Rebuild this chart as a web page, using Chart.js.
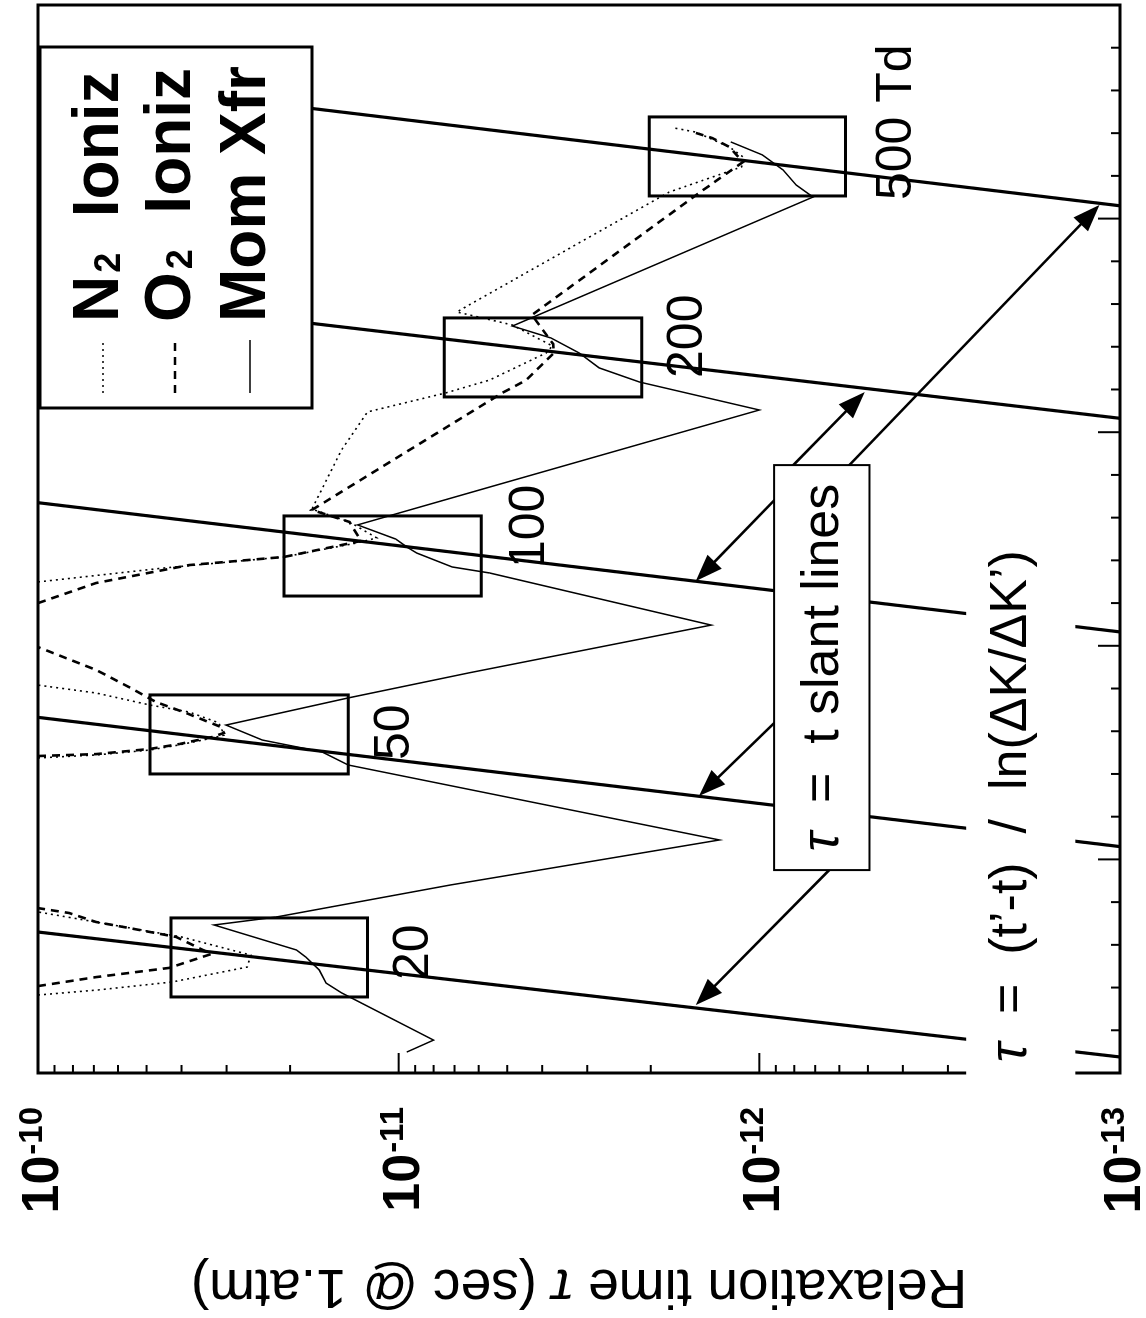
<!DOCTYPE html>
<html>
<head>
<meta charset="utf-8">
<script src="https://cdn.jsdelivr.net/npm/chart.js@4.4.1/dist/chart.umd.min.js"></script>
<style>
  html, body { margin: 0; padding: 0; background: #fff; overflow: hidden; }
  /* the figure is laid out landscape and turned a quarter turn onto the page */
  #wrap { position: absolute; left: 0; top: 0; width: 1318px; height: 1146px;
          transform-origin: 0 0; transform: translate(0px, 1318px) rotate(-90deg); }
  canvas { display: block; }
</style>
</head>
<body>
<div id="wrap"><canvas id="c" width="1318" height="1146"></canvas></div>
<script>
// ---- time axis (reduced units) and relaxation time tau (s @ 1 atm) ----

// momentum transfer relaxation time
const momU   = [0.098, 0.154, 0.351, 0.375, 0.421, 0.482, 0.543, 0.576, 0.693, 0.730, 0.880, 1.091,
                1.442, 1.503, 1.559, 1.629, 1.756, 1.873, 2.097, 2.341, 2.369, 2.434, 2.463, 2.500,
                2.566, 2.743, 3.104, 3.235, 3.301, 3.371, 3.441, 3.497, 4.101, 4.157, 4.228, 4.298, 4.359];
const momTau = [9.5e-12, 8.0e-12, 1.35e-11, 1.44e-11, 1.59e-11, 1.66e-11, 1.81e-11, 1.92e-11, 3.25e-11, 2.19e-11, 7.2e-12, 1.29e-12,
                1.38e-11, 1.63e-11, 2.39e-11, 3.01e-11, 1.38e-11, 6.4e-12, 1.36e-12, 5.6e-12, 7.1e-12, 8.9e-12, 9.5e-12, 1.02e-11,
                1.30e-11, 5.6e-12, 1.00e-12, 2.15e-12, 2.78e-12, 3.16e-12, 3.78e-12, 4.84e-12, 7.1e-13, 7.9e-13, 8.6e-13, 9.8e-13, 1.20e-12];

// N2 ionization relaxation time (null = leaves the plotted range)
const n2U   = [0.365, 0.389, 0.426, 0.496, 0.552, 0.637, 0.754, null,
               1.475, 1.489, 1.512, 1.536, 1.568, 1.582, 1.639, 1.690, 1.723, 1.779, 1.816, null,
               2.299, 2.364, 2.416, 2.481, 2.505, 2.580, 2.640, 2.917, 3.095, 3.184, 3.244, 3.371, 3.404,
               3.502, 3.563, 4.124, 4.242, 4.284, 4.335, 4.405, 4.424];
const n2Tau = [1e-10, 6.8e-11, 4.25e-11, 2.63e-11, 2.57e-11, 4.0e-11, 1e-10, null,
               1e-10, 6.9e-11, 4.9e-11, 4.06e-11, 3.29e-11, 3.05e-11, 3.15e-11, 3.81e-11, 4.9e-11, 6.9e-11, 1e-10, null,
               1e-10, 4.5e-11, 2.08e-11, 1.31e-11, 1.15e-11, 1.37e-11, 1.74e-11, 1.44e-11, 1.22e-11, 7.4e-12, 5.6e-12, 3.9e-12, 3.75e-12,
               4.84e-12, 6.9e-12, 1.78e-12, 1.12e-12, 1.10e-12, 1.21e-12, 1.50e-12, 1.72e-12];

// O2 ionization relaxation time
const o2U   = [0.407, 0.449, 0.492, 0.557, 0.637, 0.679, 0.707, 0.749, 0.772, null,
               1.484, 1.493, 1.517, 1.540, 1.573, 1.592, 1.620, 1.685, 1.737, 1.807, 1.887, 1.994, null,
               2.200, 2.294, 2.378, 2.416, 2.491, 2.580, 2.636, 3.184, 3.244, 3.371, 3.413, 3.549,
               4.120, 4.265, 4.335, 4.377, 4.401];
const o2Tau = [1e-10, 6.9e-11, 4.33e-11, 3.31e-11, 4.14e-11, 5.6e-11, 6.9e-11, 8.2e-11, 1e-10, null,
               1e-10, 6.9e-11, 4.9e-11, 4.06e-11, 3.29e-11, 3.05e-11, 3.11e-11, 3.88e-11, 4.71e-11, 5.6e-11, 6.9e-11, 1e-10, null,
               1e-10, 6.9e-11, 3.81e-11, 2.08e-11, 1.27e-11, 1.37e-11, 1.74e-11, 5.16e-12, 4.43e-12, 3.71e-12, 3.73e-12, 4.27e-12,
               1.47e-12, 1.11e-12, 1.21e-12, 1.35e-12, 1.50e-12];

// tau = t slant lines: time where each crosses the top and bottom of the tau range
const fieldLabels  = ['20', '50', '100', '200', '500 Td'];
const slantTauTop  = 1e-10;
const slantTauBot  = 1e-13;
const slantUTop    = [0.660, 1.665, 2.670, 3.660, 4.670];
const slantUBot    = [0.075, 1.060, 2.065, 3.065, 4.060];

// fitting windows for each reduced field
const boxUMin   = [0.356, 1.400, 2.233, 3.165, 4.106];
const boxUMax   = [0.726, 1.770, 2.608, 3.535, 4.476];
const boxTauHi  = [4.28e-11, 4.89e-11, 2.08e-11, 7.48e-12, 2.02e-12];
const boxTauLo  = [1.22e-11, 1.38e-11, 5.90e-12, 2.12e-12, 5.77e-13];

// field labels next to the windows (start time, baseline tau)
const fieldLabelU   = [0.435, 1.465, 2.364, 3.254, 4.087];
const fieldLabelTau = [8.3e-12, 9.35e-12, 3.95e-12, 1.44e-12, 3.79e-13];

// axis ticks
const decadeValues = [1e-10, 1e-11, 1e-12, 1e-13];
const decadeExps   = ['-10', '-11', '-12', '-13'];
const minorMantissas = [2, 3, 4, 5, 6, 7, 8, 9];
const timeMin = 0, timeMax = 5, timeMinorStep = 0.2, timeMajorEvery = 5;

// callout arrows pointing at the slant lines (tail -> head)
const arrowTailU   = [2.706, 2.823, 1.662, 0.974, 2.823];
const arrowTailTau = [8.8e-13, 8.3e-13, 8.8e-13, 6.2e-13, 5.8e-13];
const arrowHeadU   = [2.303, 3.188, 1.297, 0.318, 4.064];
const arrowHeadTau = [1.50e-12, 5.1e-13, 1.47e-12, 1.50e-12, 1.14e-13];

// callout box and the formula line
const noteBoxU   = [0.950, 2.846];
const noteBoxTau = [9.1e-13, 4.95e-13];
const noteParts    = [['τ', true], ['  =  t slant lines', false]];
const formulaParts = [['τ', true], ['  =  (t’-t)  /  ln(ΔK/ΔK’)', false]];
const formulaStartU = 0.05, formulaEndU = 2.43;
const formulaTauBase = 1.82e-13, formulaTauBand = [2.67e-13, 1.33e-13];

const titleParts = [['Relaxation time ', false], ['τ', true], [' (sec @ 1.atm)', false]];
const legendRows = [['N', '2', '  Ioniz'], ['O', '2', '  Ioniz'], ['Mom Xfr', '', '']];

// ---------------------------------------------------------------------
const FONT = '"Liberation Sans", Arial, Helvetica, sans-serif';

function series(us, taus) {
  return us.map((u, i) => ({ x: u === null ? us[i - 1] : u, y: taus[i] }));
}
function windowOutline(i) {
  return [
    { x: boxUMin[i], y: boxTauHi[i] }, { x: boxUMax[i], y: boxTauHi[i] },
    { x: boxUMax[i], y: boxTauLo[i] }, { x: boxUMin[i], y: boxTauLo[i] },
    { x: boxUMin[i], y: boxTauHi[i] }, { x: boxUMax[i], y: boxTauHi[i] }
  ];
}

const lineStyle = { showLine: true, pointRadius: 0, borderColor: '#000', backgroundColor: '#000',
                    fill: false, spanGaps: false, borderJoinStyle: 'miter', borderCapStyle: 'butt' };

const seriesStyles = [
  { dash: [2, 4], width: 1.6 },
  { dash: [8, 6], width: 2.6 },
  { dash: [], width: 1.5 }
];

const datasets = [
  Object.assign({ label: 'N2 Ioniz', data: series(n2U, n2Tau), borderDash: seriesStyles[0].dash, borderWidth: seriesStyles[0].width }, lineStyle),
  Object.assign({ label: 'O2 Ioniz', data: series(o2U, o2Tau), borderDash: seriesStyles[1].dash, borderWidth: seriesStyles[1].width }, lineStyle),
  Object.assign({ label: 'Mom Xfr', data: series(momU, momTau), borderWidth: seriesStyles[2].width }, lineStyle)
];
slantUTop.forEach((u, i) => datasets.push(Object.assign({
  label: 'slant ' + fieldLabels[i],
  data: [{ x: u, y: slantTauTop }, { x: slantUBot[i], y: slantTauBot }],
  borderWidth: 3.2
}, lineStyle)));
boxUMin.forEach((u, i) => datasets.push(Object.assign({
  label: 'window ' + fieldLabels[i], data: windowOutline(i), borderWidth: 3
}, lineStyle)));

function seg(ctx, x0, y0, x1, y1) { ctx.beginPath(); ctx.moveTo(x0, y0); ctx.lineTo(x1, y1); ctx.stroke(); }

// text made of plain and italic runs; align 'left' or 'center'
function richText(ctx, parts, size, x, y, align) {
  const fonts = parts.map(p => (p[1] ? 'italic ' : '') + size + 'px ' + FONT);
  const widths = parts.map((p, i) => { ctx.font = fonts[i]; return ctx.measureText(p[0]).width; });
  const total = widths.reduce((s, w) => s + w, 0);
  let cx = align === 'center' ? x - total / 2 : x;
  ctx.textAlign = 'left';
  parts.forEach((p, i) => { ctx.font = fonts[i]; ctx.fillText(p[0], cx, y); cx += widths[i]; });
}

function arrow(ctx, x0, y0, x1, y1) {
  const ang = Math.atan2(y1 - y0, x1 - x0), L = 27, W = 10;
  const c = Math.cos(ang), s = Math.sin(ang);
  ctx.lineWidth = 2.6;
  seg(ctx, x0, y0, x1 - L * 0.7 * c, y1 - L * 0.7 * s);
  ctx.beginPath();
  ctx.moveTo(x1, y1);
  ctx.lineTo(x1 - L * c + W * s, y1 - L * s - W * c);
  ctx.lineTo(x1 - L * c - W * s, y1 - L * s + W * c);
  ctx.closePath();
  ctx.fill();
}

const whiteBg = {
  id: 'whiteBg',
  beforeDraw(chart) {
    const { ctx, width, height } = chart;
    ctx.save(); ctx.fillStyle = '#fff'; ctx.fillRect(0, 0, width, height); ctx.restore();
  }
};

const decorations = {
  id: 'decorations',
  afterDatasetsDraw(chart) {
    const { ctx, chartArea: a, scales: { x, y } } = chart;
    const px = v => x.getPixelForValue(v), py = v => y.getPixelForValue(v);
    ctx.save();
    ctx.strokeStyle = '#000'; ctx.fillStyle = '#000'; ctx.lineCap = 'butt';

    // frame
    ctx.lineWidth = 3;
    ctx.strokeRect(a.left, a.top, a.right - a.left, a.bottom - a.top);

    // time axis ticks, pointing inward
    ctx.lineWidth = 2;
    const nSteps = Math.round((timeMax - timeMin) / timeMinorStep);
    for (let k = 0; k <= nSteps; k++) {
      const xx = px(timeMin + k * timeMinorStep);
      const len = k % timeMajorEvery === 0 ? 22 : 9;
      seg(ctx, xx, a.bottom, xx, a.bottom - len);
    }

    // log axis ticks, pointing inward
    decadeValues.forEach(d => { const yy = py(d); seg(ctx, a.left, yy, a.left + 20, yy); });
    decadeValues.slice(1).forEach(d => {
      minorMantissas.forEach(m => { const yy = py(m * d); seg(ctx, a.left, yy, a.left + 8, yy); });
    });

    // decade labels 10^-n
    ctx.textBaseline = 'alphabetic';
    decadeValues.forEach((d, i) => {
      const yy = py(d);
      ctx.font = 'bold 33px ' + FONT;
      const supW = ctx.measureText(decadeExps[i]).width;
      const supRight = a.left - 34;
      ctx.textAlign = 'left';
      ctx.fillText(decadeExps[i], supRight - supW, yy + 4);
      ctx.font = 'bold 52px ' + FONT;
      ctx.textAlign = 'right';
      ctx.fillText('10', supRight - supW - 1, yy + 20);
    });

    // axis title
    ctx.save();
    ctx.translate(a.left - 197, (a.top + a.bottom) / 2);
    ctx.rotate(-Math.PI / 2);
    richText(ctx, titleParts, 55, 0, 0, 'center');
    ctx.restore();

    // labels of the reduced fields
    ctx.font = '50px ' + FONT;
    ctx.textAlign = 'left';
    fieldLabels.forEach((t, i) => ctx.fillText(t, px(fieldLabelU[i]), py(fieldLabelTau[i])));

    // callout arrows
    arrowTailU.forEach((u, i) => arrow(ctx, px(u), py(arrowTailTau[i]), px(arrowHeadU[i]), py(arrowHeadTau[i])));

    // callout box
    const bx0 = px(noteBoxU[0]), bx1 = px(noteBoxU[1]);
    const by0 = py(noteBoxTau[0]), by1 = py(noteBoxTau[1]);
    ctx.fillStyle = '#fff';
    ctx.fillRect(bx0, by0, bx1 - bx0, by1 - by0);
    ctx.lineWidth = 2;
    ctx.strokeRect(bx0, by0, bx1 - bx0, by1 - by0);
    ctx.fillStyle = '#000';
    ctx.textBaseline = 'middle';
    richText(ctx, noteParts, 52, (bx0 + bx1) / 2, (by0 + by1) / 2 + 2, 'center');

    // formula line on a white band
    ctx.textBaseline = 'alphabetic';
    const fy0 = py(formulaTauBand[0]), fy1 = py(formulaTauBand[1]);
    ctx.fillStyle = '#fff';
    ctx.fillRect(a.left - 6, fy0, px(formulaEndU) - (a.left - 6), fy1 - fy0);
    ctx.fillStyle = '#000';
    richText(ctx, formulaParts, 52, px(formulaStartU), py(formulaTauBase), 'left');

    // legend
    const lx0 = a.right - 403, lx1 = a.right - 42, ly0 = a.top + 2, ly1 = a.top + 274;
    ctx.fillStyle = '#fff';
    ctx.fillRect(lx0, ly0, lx1 - lx0, ly1 - ly0);
    ctx.lineWidth = 3;
    ctx.strokeRect(lx0, ly0, lx1 - lx0, ly1 - ly0);
    ctx.fillStyle = '#000';
    const baselines = [ly0 + 78, ly0 + 150, ly0 + 225];
    legendRows.forEach((row, i) => {
      const base = baselines[i];
      ctx.save();
      ctx.setLineDash(seriesStyles[i].dash);
      ctx.lineWidth = seriesStyles[i].width;
      seg(ctx, lx0 + 15, base - 15, lx0 + 68, base - 15);
      ctx.restore();
      let tx = lx0 + 86;
      ctx.textAlign = 'left';
      ctx.font = 'bold 64px ' + FONT;
      ctx.fillText(row[0], tx, base);
      tx += ctx.measureText(row[0]).width;
      if (row[1]) {
        ctx.font = 'bold 36px ' + FONT;
        ctx.fillText(row[1], tx + 3, base + 2);
        tx += ctx.measureText(row[1]).width + 3;
      }
      if (row[2]) {
        ctx.font = 'bold 64px ' + FONT;
        ctx.fillText(row[2], tx, base);
      }
    });

    ctx.restore();
  }
};

new Chart(document.getElementById('c'), {
  type: 'scatter',
  data: { datasets },
  options: {
    responsive: false,
    animation: false,
    devicePixelRatio: 1,
    layout: { padding: { left: 245, right: 5, top: 38, bottom: 26 } },
    plugins: { legend: { display: false }, tooltip: { enabled: false } },
    elements: { point: { radius: 0 }, line: { tension: 0 } },
    scales: {
      x: { type: 'linear', min: timeMin, max: timeMax, display: false },
      y: { type: 'logarithmic', min: 1e-13, max: 1e-10, display: false }
    }
  },
  plugins: [whiteBg, decorations]
});
</script>
</body>
</html>
